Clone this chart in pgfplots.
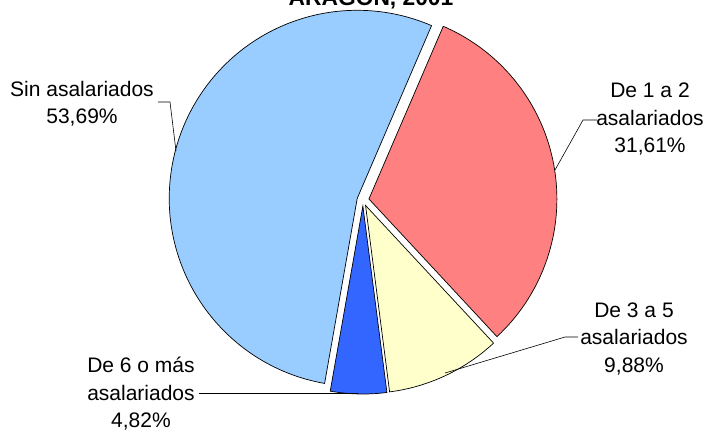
\documentclass[border=0pt]{standalone}
\usepackage{pgfplots}
\pgfplotsset{compat=1.18}
\usepackage{pgfplotstable}
\usepackage{fontspec}
\setmainfont{Liberation Sans}
\usetikzlibrary{calc}

\definecolor{sinc}{HTML}{99CCFF}
\definecolor{dec12}{HTML}{FF8080}
\definecolor{dec35}{HTML}{FFFFCC}
\definecolor{dec6}{HTML}{3366FF}

% share of firms by number of employees, %
\pgfplotstableread{
value
53.69
31.61
9.88
4.82
}\piedata

% one exploded slice: start angle, end angle, colour
\newcommand\slice[3]{%
  \fill[#3, draw=black, line width=0.7pt]
    ($(axis cs:363,200)+({(#1+#2)/2}:6pt)$) -- +(#1:188pt)
    arc[start angle=#1, end angle=#2, radius=188pt] -- cycle;}
\newcommand\lab[3]{\node[anchor=base, inner sep=0pt, font=\fontsize{21}{25}\selectfont] at (axis cs:#1,#2) {#3};}

\begin{document}
\begin{tikzpicture}
\pgfplotstablegetelem{0}{value}\of\piedata\let\vA\pgfplotsretval
\pgfplotstablegetelem{1}{value}\of\piedata\let\vB\pgfplotsretval
\pgfplotstablegetelem{2}{value}\of\piedata\let\vC\pgfplotsretval
\pgfplotstablegetelem{3}{value}\of\piedata\let\vD\pgfplotsretval
\pgfmathsetmacro\sA{-100}
\pgfmathsetmacro\eA{\sA-3.6*\vA}
\pgfmathsetmacro\eB{\eA-3.6*\vB}
\pgfmathsetmacro\eC{\eB-3.6*\vC}
\pgfmathsetmacro\eD{\eC-3.6*\vD}
\begin{axis}[
    x=1pt, y=1pt,
    xmin=0, xmax=708, ymin=0, ymax=432,
    y dir=reverse,
    hide axis,
    clip=false
]
\coordinate (BL) at (axis cs:0,432);
\coordinate (TR) at (axis cs:708,0);

\slice{\sA}{\eA}{sinc}
\slice{\eA}{\eB}{dec12}
\slice{\eB}{\eC}{dec35}
\slice{\eC}{\eD}{dec6}

% leader lines
\draw[black, line width=0.6pt] (axis cs:158,102) -- (axis cs:170,102) -- (axis cs:176,151);
\draw[black, line width=0.6pt] (axis cs:597,120) -- (axis cs:583,120) -- (axis cs:555,170);
\draw[black, line width=0.6pt] (axis cs:578,337) -- (axis cs:565,337) -- (axis cs:445,373);
\draw[black, line width=0.6pt] (axis cs:199,393) -- (axis cs:358,393);

% labels
\lab{82}{96}{Sin asalariados}
\lab{82}{123}{53,69\%}
\lab{650}{97}{De 1 a 2}
\lab{650}{125}{asalariados}
\lab{650}{152}{31,61\%}
\lab{634}{317}{De 3 a 5}
\lab{634}{344}{asalariados}
\lab{634}{372}{9,88\%}
\lab{141}{372}{De 6 o más}
\lab{141}{400}{asalariados}
\lab{141}{427}{4,82\%}

\node[anchor=base, inner sep=0pt, font=\fontsize{22.8}{26}\selectfont\bfseries] at (axis cs:371,5) {ARAGÓN, 2001};
\end{axis}
\pgfresetboundingbox
\useasboundingbox (BL) rectangle (TR);
\end{tikzpicture}
\end{document}
